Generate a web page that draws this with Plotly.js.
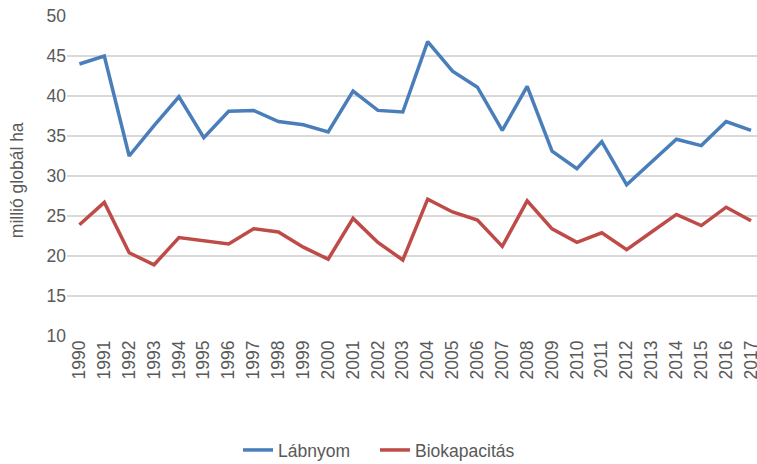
<!DOCTYPE html>
<html>
<head>
<meta charset="utf-8">
<script src="https://cdn.plot.ly/plotly-3.0.1.min.js"></script>
<style>html,body{margin:0;padding:0;background:#fff;}#chart{width:757px;height:464px;}</style>
</head>
<body>
<div id="chart"></div>
<script>
const years = ['1990','1991','1992','1993','1994','1995','1996','1997','1998','1999','2000','2001','2002','2003','2004','2005','2006','2007','2008','2009','2010','2011','2012','2013','2014','2015','2016','2017'];
const labnyom = [44.0,45.0,32.5,36.3,39.9,34.8,38.1,38.2,36.8,36.4,35.5,40.6,38.2,38.0,46.8,43.1,41.1,35.7,41.2,33.1,30.9,34.3,28.9,31.7,34.6,33.8,36.8,35.7];
const biokapacitas = [23.9,26.7,20.4,18.9,22.3,21.9,21.5,23.4,23.0,21.1,19.6,24.7,21.7,19.5,27.1,25.5,24.5,21.2,26.9,23.4,21.7,22.9,20.8,23.0,25.2,23.8,26.1,24.4];
const seriesNames = ['Lábnyom','Biokapacitás'];
const yTitle = 'millió globál ha';

const font = {family:'"Liberation Sans", Arial, sans-serif', size:17.5, color:'#595959'};
const traces = [
  {x: years, y: labnyom, name: seriesNames[0], type:'scatter', mode:'lines', line:{color:'#4A7EBB', width:3.5}, legend:'legend'},
  {x: years, y: biokapacitas, name: seriesNames[1], type:'scatter', mode:'lines', line:{color:'#BE4B48', width:3.5}, legend:'legend2'}
];
const legendBase = {orientation:'h', xref:'container', yref:'container', xanchor:'left', y:0.03, yanchor:'middle', font:font, itemwidth:30};
const layout = {
  width:757, height:464,
  margin:{l:67, r:0, t:16, b:128},
  paper_bgcolor:'#fff', plot_bgcolor:'#fff',
  font: font,
  showlegend:true,
  legend: Object.assign({}, legendBase, {x:238/757}),
  legend2: Object.assign({}, legendBase, {x:375/757}),
  xaxis:{type:'category', range:[-0.5,27.24], tickangle:-90, showgrid:false, zeroline:false, showline:false, ticks:'', tickfont:font, fixedrange:true},
  yaxis:{range:[10,50], dtick:5, tick0:10, showgrid:true, gridcolor:'#D9D9D9', gridwidth:1.5, zeroline:false, showline:false, ticks:'', ticklen:0, tickfont:font, fixedrange:true},
  annotations:[{text:yTitle, xref:'paper', yref:'paper', x:(17-67)/690, y:0.487, textangle:-90, showarrow:false, font:font, xanchor:'center', yanchor:'middle'}]
};
Plotly.newPlot('chart', traces, layout, {displayModeBar:false, staticPlot:true});
</script>
</body>
</html>
